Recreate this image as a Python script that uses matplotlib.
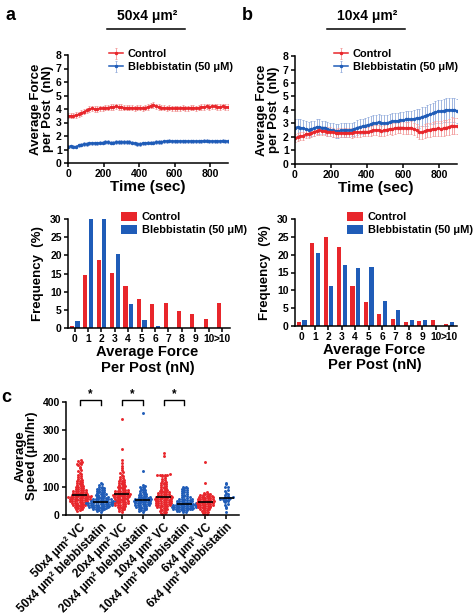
import numpy as np
import matplotlib as mpl
mpl.use('Agg')
import matplotlib.pyplot as plt
from matplotlib.lines import Line2D

W, H = 473, 615

plt.rcParams['font.family'] = ['Liberation Sans', 'DejaVu Sans']
plt.rcParams['font.weight'] = 'bold'
plt.rcParams['axes.labelweight'] = 'bold'
plt.rcParams['axes.linewidth'] = 1.1

RED = '#e8262b'
BLUE = '#1f5cb8'
RED_LT = '#f39a9a'
BLUE_LT = '#93acdc'

# ---- force traces (mean +/- sem, every 15 sec) ----
time_sec = list(range(0, 901, 15))

a_ctrl = [3.5, 3.5, 3.5, 3.55, 3.6, 3.7, 3.8, 3.9, 4.0, 4.05, 4.0, 4.0, 4.05, 4.05, 4.1, 4.1,
          4.15, 4.15, 4.2, 4.15, 4.15, 4.1, 4.1, 4.1, 4.1, 4.05, 4.1, 4.1, 4.05, 4.1, 4.15, 4.25,
          4.3, 4.2, 4.15, 4.1, 4.1, 4.05, 4.1, 4.05, 4.05, 4.05, 4.05, 4.1, 4.05, 4.05, 4.1, 4.1,
          4.05, 4.1, 4.15, 4.15, 4.2, 4.15, 4.2, 4.2, 4.15, 4.15, 4.2, 4.15, 4.15]
a_ctrl_err = [0.2] * 61
a_bleb = [1.2, 1.25, 1.2, 1.2, 1.3, 1.35, 1.4, 1.4, 1.45, 1.45, 1.45, 1.45, 1.5, 1.5, 1.55, 1.55,
          1.5, 1.5, 1.55, 1.55, 1.55, 1.55, 1.55, 1.55, 1.5, 1.45, 1.4, 1.4, 1.45, 1.45, 1.5, 1.5,
          1.5, 1.55, 1.55, 1.55, 1.6, 1.6, 1.65, 1.6, 1.6, 1.6, 1.6, 1.6, 1.6, 1.6, 1.6, 1.6,
          1.6, 1.6, 1.6, 1.65, 1.65, 1.6, 1.6, 1.6, 1.6, 1.6, 1.65, 1.6, 1.6]
a_bleb_err = [0.12] * 61

b_ctrl = [1.9, 2.0, 2.05, 2.1, 2.2, 2.25, 2.3, 2.4, 2.45, 2.5, 2.45, 2.45, 2.4, 2.4, 2.35, 2.3,
          2.3, 2.3, 2.3, 2.3, 2.3, 2.3, 2.35, 2.35, 2.35, 2.4, 2.4, 2.4, 2.45, 2.5, 2.5, 2.5,
          2.45, 2.5, 2.55, 2.6, 2.6, 2.65, 2.7, 2.7, 2.7, 2.65, 2.65, 2.7, 2.6, 2.5, 2.35, 2.35,
          2.45, 2.5, 2.55, 2.6, 2.6, 2.65, 2.6, 2.65, 2.7, 2.75, 2.85, 2.8, 2.8]
b_ctrl_err = [0.3, 0.3, 0.3, 0.3, 0.3, 0.3, 0.32, 0.32, 0.32, 0.32, 0.32, 0.32, 0.32, 0.32, 0.32, 0.32,
              0.33, 0.33, 0.33, 0.33, 0.33, 0.35, 0.35, 0.35, 0.35, 0.35, 0.35, 0.35, 0.38, 0.38, 0.38, 0.4,
              0.4, 0.4, 0.4, 0.4, 0.42, 0.42, 0.42, 0.42, 0.45, 0.45, 0.45, 0.45, 0.45, 0.48, 0.5, 0.5,
              0.5, 0.5, 0.52, 0.52, 0.55, 0.55, 0.55, 0.58, 0.58, 0.6, 0.6, 0.6, 0.6]
b_bleb = [2.7, 2.75, 2.7, 2.65, 2.6, 2.55, 2.6, 2.65, 2.75, 2.75, 2.7, 2.7, 2.6, 2.55, 2.5, 2.45,
          2.45, 2.5, 2.5, 2.5, 2.5, 2.55, 2.6, 2.7, 2.75, 2.8, 2.85, 2.9, 2.95, 3.0, 3.05, 3.1,
          3.05, 3.0, 3.05, 3.1, 3.15, 3.2, 3.2, 3.25, 3.25, 3.3, 3.3, 3.3, 3.35, 3.4, 3.4, 3.5,
          3.55, 3.6, 3.7, 3.75, 3.85, 3.9, 3.9, 3.95, 4.0, 4.0, 4.0, 4.0, 3.95]
b_bleb_err = [0.6, 0.6, 0.6, 0.6, 0.55, 0.55, 0.55, 0.55, 0.55, 0.55, 0.5, 0.5, 0.5, 0.5, 0.5, 0.5,
              0.5, 0.5, 0.5, 0.5, 0.5, 0.5, 0.5, 0.55, 0.55, 0.55, 0.55, 0.6, 0.6, 0.6, 0.6, 0.6,
              0.6, 0.6, 0.6, 0.6, 0.6, 0.6, 0.6, 0.6, 0.62, 0.62, 0.62, 0.65, 0.65, 0.65, 0.7, 0.7,
              0.7, 0.75, 0.75, 0.8, 0.8, 0.85, 0.85, 0.85, 0.9, 0.9, 0.9, 0.9, 0.9]

# ---- force histograms (%) ----
force_bins = ['0', '1', '2', '3', '4', '5', '6', '7', '8', '9', '10', '>10']
a_hist_ctrl = [0.5, 14.5, 18.7, 15.1, 11.6, 7.9, 6.6, 6.9, 4.7, 3.8, 2.4, 6.9]
a_hist_bleb = [2.0, 30.0, 30.0, 20.5, 6.7, 2.3, 0.5, 0, 0, 0, 0, 0]
b_hist_ctrl = [1.2, 23.3, 25.0, 22.1, 11.1, 6.6, 3.4, 2.0, 1.1, 1.4, 1.7, 0.6]
b_hist_bleb = [1.6, 20.5, 11.3, 17.1, 16.2, 16.5, 7.1, 4.6, 1.6, 1.8, 0, 1.1]

# ---- cell speed (um/hr) ----
speed_labels = ['50x4 μm² VC', '50x4 μm² blebbistatin', '20x4 μm² VC', '20x4 μm² blebbistatin',
                '10x4 μm² VC', '10x4 μm² blebbistatin', '6x4 μm² VC', '6x4 μm² blebbistatin']
speed_50_vc = [195, 190, 188, 185, 182, 180, 176, 170, 165, 160, 155, 150, 145, 140, 138, 135, 132,
               128, 125, 122, 120, 118, 115, 112, 110, 108, 106, 104, 102, 100, 98, 96, 95, 93, 92,
               90, 88, 87, 86, 85, 84, 82, 81, 80, 79, 78, 77, 76, 75, 74, 73, 72, 71, 70, 69, 68,
               68, 67, 66, 65, 64, 63, 62, 61, 60, 59, 58, 57, 56, 55, 54, 53, 52, 51, 50, 49, 48,
               47, 46, 45, 44, 43, 42, 41, 40, 38, 37, 36, 35, 34, 32, 31, 30, 28, 27, 25, 24, 22,
               20, 18, 15, 66, 64, 60, 58, 55, 52]
speed_50_bleb = [112, 108, 105, 100, 98, 96, 95, 93, 92, 90, 88, 86, 85, 83, 82, 80, 78, 76, 75, 73,
                 72, 70, 68, 67, 65, 64, 62, 61, 60, 59, 58, 57, 56, 55, 54, 53, 52, 51, 50, 49, 48,
                 48, 47, 47, 46, 46, 45, 45, 44, 43, 42, 41, 40, 40, 39, 38, 37, 36, 35, 35, 34, 33,
                 32, 31, 30, 30, 29, 28, 27, 26, 25, 24, 23, 22, 21, 20, 18, 16, 14, 12, 55, 50, 45,
                 42, 38, 35, 32, 28]
speed_20_vc = [340, 235, 195, 185, 172, 165, 160, 152, 148, 142, 138, 135, 130, 128, 125, 122, 120,
               118, 115, 112, 110, 108, 106, 104, 102, 100, 98, 96, 94, 92, 90, 89, 88, 86, 85, 84,
               83, 82, 80, 79, 78, 77, 76, 75, 74, 73, 72, 72, 71, 70, 69, 68, 67, 66, 65, 64, 63,
               62, 61, 60, 58, 57, 56, 55, 54, 52, 51, 50, 48, 47, 46, 45, 44, 42, 41, 40, 38, 37,
               36, 35, 33, 32, 30, 28, 26, 24, 22, 20, 18, 15, 12]
speed_20_bleb = [360, 155, 105, 102, 100, 98, 95, 92, 90, 88, 85, 82, 80, 78, 76, 74, 72, 70, 68, 66,
                 65, 64, 62, 61, 60, 59, 58, 57, 56, 55, 54, 53, 52, 51, 50, 50, 49, 48, 47, 46, 45,
                 44, 43, 42, 41, 40, 39, 38, 37, 36, 35, 34, 33, 32, 30, 29, 28, 26, 25, 24, 22, 20,
                 18, 16, 14, 12]
speed_10_vc = [220, 208, 145, 143, 142, 141, 140, 140, 139, 138, 132, 128, 125, 120, 118, 115, 112,
               110, 108, 105, 102, 100, 98, 96, 94, 92, 90, 88, 86, 85, 83, 82, 80, 78, 77, 76, 75,
               73, 72, 70, 69, 68, 67, 66, 65, 64, 63, 62, 62, 61, 60, 59, 58, 57, 56, 55, 54, 53,
               52, 51, 50, 49, 48, 47, 46, 45, 44, 43, 42, 41, 40, 39, 38, 37, 36, 35, 34, 33, 32,
               31, 30, 28, 26, 24, 22, 20, 18, 16, 14, 12, 10, 8, 6, 4]
speed_10_bleb = [100, 98, 96, 95, 92, 90, 88, 85, 82, 80, 78, 75, 72, 70, 68, 66, 64, 62, 60, 58, 57,
                 56, 55, 54, 53, 52, 51, 50, 49, 48, 47, 46, 45, 44, 43, 42, 41, 40, 40, 39, 38, 37,
                 36, 35, 34, 33, 32, 31, 30, 29, 28, 27, 26, 25, 24, 23, 22, 21, 20, 19, 18, 16, 15,
                 14, 12, 10, 38, 36, 34, 32, 30, 28, 26, 24, 22, 20]
speed_6_vc = [188, 115, 80, 78, 76, 75, 73, 72, 70, 68, 67, 66, 65, 64, 63, 62, 61, 60, 59, 58, 57,
              56, 55, 54, 53, 52, 51, 50, 49, 48, 47, 46, 45, 45, 44, 43, 42, 41, 40, 39, 38, 37,
              36, 35, 34, 33, 32, 31, 30, 29, 28, 27, 26, 25, 24, 22, 20, 18, 16, 14, 12, 10, 8, 5, 3]
speed_6_bleb = [112, 110, 100, 98, 90, 85, 78, 75, 70, 66, 63, 62, 61, 60, 60, 58, 56, 55, 52, 50,
                48, 45, 40, 35, 30, 25, 12]
speed_groups = [speed_50_vc, speed_50_bleb, speed_20_vc, speed_20_bleb,
                speed_10_vc, speed_10_bleb, speed_6_vc, speed_6_bleb]
sig_pairs = [(0, 1), (2, 3), (4, 5)]

fig = plt.figure(figsize=(W / 100, H / 100), dpi=100)


def add_ax(left, top, right, bottom):
    # axes placed in pixel coordinates of the figure
    return fig.add_axes([left / W, 1 - bottom / H, (right - left) / W, (bottom - top) / H])


def prism(ax):
    ax.spines['top'].set_visible(False)
    ax.spines['right'].set_visible(False)
    ax.tick_params(direction='out', length=3, width=1.1, labelsize=7.5, pad=1.5)


def force_trace(ax, ctrl, ctrl_err, bleb, bleb_err, leg_x):
    series = [(bleb, bleb_err, BLUE, BLUE_LT, 'Blebbistatin (50 μM)'),
              (ctrl, ctrl_err, RED, RED_LT, 'Control')]
    for mean, err, c, lt, lab in series:
        ax.errorbar(time_sec, mean, yerr=err, color=c, ecolor=lt, elinewidth=0.6, capsize=1,
                    capthick=0.6, marker='o', ms=1.5, lw=1.1, label=lab)
    prism(ax)
    ax.set_xlim(0, 900)
    ax.set_ylim(0, 8)
    ax.set_xticks([0, 200, 400, 600, 800])
    ax.set_yticks(range(9))
    ax.set_xlabel('Time (sec)', fontsize=11)
    ax.xaxis.set_label_coords(0.5, -0.16)
    ax.set_ylabel('Average Force\nper Post  (nN)', fontsize=9.5, linespacing=1.0)
    ax.yaxis.set_label_coords(-0.09, 0.5)
    h, l = ax.get_legend_handles_labels()
    ax.legend(h[::-1], l[::-1], loc='upper left', bbox_to_anchor=(leg_x / W, 1 - 49 / H),
              bbox_transform=fig.transFigure, frameon=False, fontsize=7.9, handlelength=1.3,
              handletextpad=0.4, labelspacing=0.3, borderaxespad=0, borderpad=0)


def force_hist(ax, ctrl, bleb, leg_x):
    x = np.arange(len(force_bins))
    ax.bar(x - 0.21, ctrl, width=0.31, color=RED, label='Control')
    ax.bar(x + 0.21, bleb, width=0.31, color=BLUE, label='Blebbistatin (50 μM)')
    prism(ax)
    ax.set_xticks(x, force_bins)
    ax.tick_params(axis='x', labelsize=7.4)
    ax.set_xlim(-0.5, 11.6)
    ax.set_ylim(0, 30)
    ax.set_yticks(range(0, 31, 5))
    ax.set_xlabel('Average Force\nPer Post (nN)', fontsize=10.6, linespacing=1.1)
    ax.xaxis.set_label_coords(0.49, -0.16)
    ax.set_ylabel('Frequency  (%)', fontsize=9.5)
    ax.yaxis.set_label_coords(-0.15, 0.5)
    ax.legend(loc='upper left', bbox_to_anchor=(leg_x / W, 1 - 212 / H),
              bbox_transform=fig.transFigure, frameon=False, fontsize=7.9, handlelength=1.5,
              handleheight=0.9, handletextpad=0.4, labelspacing=0.2, borderaxespad=0, borderpad=0)


def swarm_offsets(vals, step=7.0, gap=0.12):
    rows = np.floor(vals / step)
    offs = np.zeros(len(vals))
    for r in np.unique(rows):
        idx = np.where(rows == r)[0]
        offs[idx] = (np.arange(len(idx)) - (len(idx) - 1) / 2) * gap
    return offs


# a / b : traces
ax_a1 = add_ax(68, 55, 228, 163)
force_trace(ax_a1, a_ctrl, a_ctrl_err, a_bleb, a_bleb_err, 109)
ax_b1 = add_ax(295, 56, 457, 164)
force_trace(ax_b1, b_ctrl, b_ctrl_err, b_bleb, b_bleb_err, 334)

# a / b : histograms
ax_a2 = add_ax(68, 219, 230, 328)
force_hist(ax_a2, a_hist_ctrl, a_hist_bleb, 121)
ax_b2 = add_ax(295, 219, 457, 326)
force_hist(ax_b2, b_hist_ctrl, b_hist_bleb, 347)

# c : speed scatter
ax_c = add_ax(66, 402, 239, 515)
for i, vals in enumerate(speed_groups):
    vals = np.sort(np.array(vals, dtype=float))
    ax_c.scatter(i + swarm_offsets(vals), vals, s=4.5, color=RED if i % 2 == 0 else BLUE,
                 linewidths=0, zorder=2, clip_on=False)
    ax_c.hlines(np.median(vals), i - 0.36, i + 0.36, color='black', lw=1.2, zorder=3)
prism(ax_c)
ax_c.set_xlim(-0.65, 7.6)
ax_c.set_ylim(0, 400)
ax_c.set_yticks(range(0, 401, 100))
ax_c.set_xticks(range(len(speed_labels)))
ax_c.set_xticklabels(speed_labels, rotation=45, ha='right', rotation_mode='anchor', fontsize=8.5)
ax_c.set_ylabel('Average\nSpeed (μm/hr)', fontsize=9.5, linespacing=1.0)
ax_c.yaxis.set_label_coords(-0.16, 0.52)
for p, q in sig_pairs:
    ax_c.plot([p, p, q, q], [390, 408, 408, 390], color='black', lw=1, clip_on=False)
    ax_c.text((p + q) / 2, 405, '*', ha='center', va='bottom', fontsize=8.5)

# headers and panel letters
fig.text(147 / W, 1 - 16 / H, '50x4 μm²', ha='center', va='center', fontsize=10)
fig.text(367 / W, 1 - 16 / H, '10x4 μm²', ha='center', va='center', fontsize=10)
for x0, x1 in [(107, 185), (327, 405)]:
    fig.add_artist(Line2D([x0 / W, x1 / W], [1 - 29 / H, 1 - 29 / H], color='black', lw=1.1,
                          transform=fig.transFigure))
fig.text(10 / W, 1 - 16 / H, 'a', ha='center', va='center', fontsize=13)
fig.text(247 / W, 1 - 16 / H, 'b', ha='center', va='center', fontsize=13)
fig.text(6 / W, 1 - 398 / H, 'c', ha='center', va='center', fontsize=13)

fig.savefig('out.png', dpi=100)
